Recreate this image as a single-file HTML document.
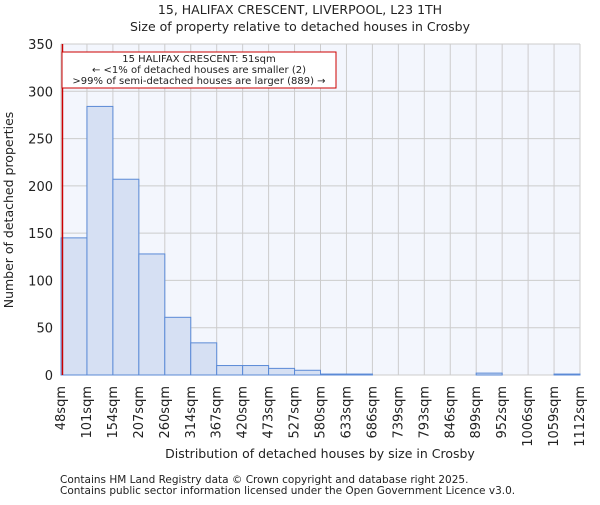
<!DOCTYPE html>
<html><head><meta charset="utf-8"><style>
body{margin:0;background:#fff;font-family:"Liberation Sans","DejaVu Sans",sans-serif}
svg text{font-family:"DejaVu Sans","Liberation Sans",sans-serif;fill:#222}
</style></head><body>
<svg id="chart" width="600" height="500" xmlns="http://www.w3.org/2000/svg">
<text x="300" y="14" text-anchor="middle" font-size="12.5">15, HALIFAX CRESCENT, LIVERPOOL, L23 1TH</text>
<text x="300" y="31" text-anchor="middle" font-size="12.5">Size of property relative to detached houses in Crosby</text>
<rect x="61" y="44" width="519" height="331" fill="#f3f6fd"/>
<g id="grid"></g><g id="bars"></g><g id="axes"></g>
<text transform="translate(13,210) rotate(-90)" text-anchor="middle" font-size="12.5">Number of detached properties</text>
<text x="320" y="458" text-anchor="middle" font-size="12.5">Distribution of detached houses by size in Crosby</text>
<text x="60" y="483" font-size="10.5" fill="#555">Contains HM Land Registry data © Crown copyright and database right 2025.</text>
<text x="60" y="494" font-size="10.5" fill="#555">Contains public sector information licensed under the Open Government Licence v3.0.</text>
</svg>
<script>
const categories=["48sqm","101sqm","154sqm","207sqm","260sqm","314sqm","367sqm","420sqm","473sqm","527sqm","580sqm","633sqm","686sqm","739sqm","793sqm","846sqm","899sqm","952sqm","1006sqm","1059sqm","1112sqm"];
const counts=[145,284,207,128,61,34,10,10,7,5,1,1,0,0,0,0,2,0,0,1];
const yTicks=[0,50,100,150,200,250,300,350];
const subjectSize=51;
const binStart=48, binWidth=53;
const X0=61,X1=580,Y0=375,Y1=44,YMAX=350;
const nb=counts.length, bw=(X1-X0)/nb;
const xs=i=>X0+i*bw;
const xv=v=>X0+(v-binStart)/binWidth*bw;
const ys=v=>Y0-(v/YMAX)*(Y0-Y1);
const NS="http://www.w3.org/2000/svg";
function mk(t,a,p){const e=document.createElementNS(NS,t);for(const k in a)e.setAttribute(k,a[k]);p.appendChild(e);return e;}
const grid=document.getElementById('grid'),bars=document.getElementById('bars'),axes=document.getElementById('axes');
yTicks.forEach(v=>{
 const l=mk('line',{x1:X0,x2:X1,y1:ys(v),y2:ys(v),stroke:'#ccc','stroke-width':1},grid);
 
 
 const t=mk('text',{x:X0-8,y:ys(v)+5,'text-anchor':'end','font-size':13},axes);
 t.textContent=v;
 
 
});
categories.forEach((c,i)=>{
 const l=mk('line',{x1:xs(i),x2:xs(i),y1:Y1,y2:Y0,stroke:'#ccc','stroke-width':1},grid);
 
 
 const x=xs(i)+4;
 const t=mk('text',{transform:`translate(${x},386) rotate(-90)`,'text-anchor':'end','font-size':13},axes);
 t.textContent=c;
 
 
});
counts.forEach((v,i)=>{
 const r=mk('rect',{x:xs(i),y:ys(v),width:bw,height:Y0-ys(v),fill:'#d6e0f3',stroke:'#5b8ad6','stroke-width':1},bars);
 
 
});
const rl=mk('line',{x1:xv(subjectSize),x2:xv(subjectSize),y1:Y1,y2:Y0,stroke:'#cc0000','stroke-width':1.5},axes);


const box=mk('rect',{x:62,y:52,width:274,height:36,fill:'#fff',stroke:'#cc0000','stroke-width':1},axes);


["15 HALIFAX CRESCENT: 51sqm","← <1% of detached houses are smaller (2)",">99% of semi-detached houses are larger (889) →"].forEach((s,k)=>{
 const t=mk('text',{x:199,y:62+k*11,'text-anchor':'middle','font-size':10},axes);
 t.textContent=s;
 
 
});
</script>
</body></html>
